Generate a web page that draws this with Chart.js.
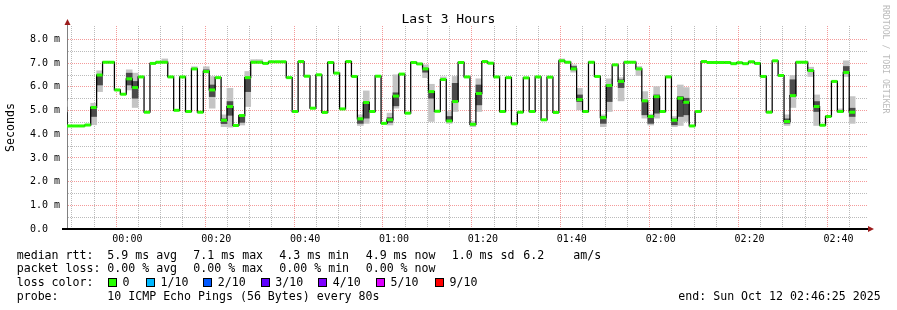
<!DOCTYPE html>
<html>
<head>
<meta charset="utf-8">
<script src="https://cdn.jsdelivr.net/npm/chart.js@4.4.1/dist/chart.umd.min.js"></script>
<style>
  body { margin: 0; background: #fff; }
  #wrap { position: relative; width: 897px; height: 310px; font-family: "DejaVu Sans Mono", monospace; color: #000; overflow: hidden; }
  canvas { position: absolute; left: 0; top: 0; }
  .title { position: absolute; left: 0; top: 11px; width: 897px; text-align: center; font-size: 13px; line-height: 16px; }
  .mark { position: absolute; left: 881px; top: 5px; writing-mode: vertical-rl; font-size: 8.2px; line-height: 10px; color: #bbb; white-space: pre; }
  .t { position: absolute; white-space: pre; font-size: 11.6px; line-height: 14px; }
  .box { position: absolute; top: 278px; width: 9px; height: 9px; box-sizing: border-box; border: 1px solid #000; }
</style>
</head>
<body>
<div id="wrap">
  <canvas id="chart" width="897" height="310"></canvas>
  <div class="title">Last 3 Hours</div>
  <div class="mark">RRDTOOL / TOBI OETIKER</div>

  <div class="t" style="left:16.7px;top:247.5px">median rtt:</div>
  <div class="t" style="left:107.3px;top:247.5px">5.9 ms avg</div>
  <div class="t" style="left:193.3px;top:247.5px">7.1 ms max</div>
  <div class="t" style="left:279.3px;top:247.5px">4.3 ms min</div>
  <div class="t" style="left:365.7px;top:247.5px">4.9 ms now</div>
  <div class="t" style="left:451.7px;top:247.5px">1.0 ms sd</div>
  <div class="t" style="left:523.3px;top:247.5px">6.2</div>
  <div class="t" style="left:573.3px;top:247.5px">am/s</div>

  <div class="t" style="left:16.7px;top:261.3px">packet loss:</div>
  <div class="t" style="left:107.3px;top:261.3px">0.00 % avg</div>
  <div class="t" style="left:193.3px;top:261.3px">0.00 % max</div>
  <div class="t" style="left:279.3px;top:261.3px">0.00 % min</div>
  <div class="t" style="left:365.7px;top:261.3px">0.00 % now</div>

  <div class="t" style="left:16.7px;top:275.1px">loss color:</div>
  <div id="lossRow"></div>

  <div class="t" style="left:16.7px;top:288.9px">probe:</div>
  <div class="t" style="left:107.3px;top:288.9px">10 ICMP Echo Pings (56 Bytes) every 80s</div>
  <div class="t" style="left:678.3px;top:288.9px">end: Sun Oct 12 02:46:25 2025</div>
</div>
<script>
// time axis: seconds after 23:46:25, 3 hours wide, one sample every 80 s
const rangeSeconds = 10800;
const stepSeconds = 80;
const firstStep = -1; // sample just left of the plot, only its edge shows

const timeLabels = ["00:00", "00:20", "00:40", "01:00", "01:20", "01:40", "02:00", "02:20", "02:40"];
const firstLabelSecond = 815;   // 00:00
const labelEverySeconds = 1200; // 20 min
const firstGridSecond = 215;    // 23:50
const gridEverySeconds = 300;   // 5 min

const yTickValues = [0, 0.5, 1, 1.5, 2, 2.5, 3, 3.5, 4, 4.5, 5, 5.5, 6, 6.5, 7, 7.5, 8];
const yTickLabels = ["0.0  ", "", "1.0 m", "", "2.0 m", "", "3.0 m", "", "4.0 m", "", "5.0 m", "", "6.0 m", "", "7.0 m", "", "8.0 m"];

// median rtt in ms, one per 80 s step, from step -1 to 132
const medianRtt = [
  4.90,
  4.35, 4.35, 4.35, 4.39, 5.13, 6.50, 7.04, 7.04, 5.87, 5.69,
  6.34, 5.97, 6.42, 4.93, 6.99, 7.04, 7.04, 6.42, 5.01, 6.42,
  4.96, 6.76, 4.93, 6.65, 5.87, 6.39, 4.59, 5.17, 4.37, 4.79,
  6.39, 7.04, 7.04, 6.99, 7.06, 7.06, 7.06, 6.39, 4.96, 7.07,
  6.45, 5.10, 6.51, 4.92, 7.03, 6.58, 5.07, 7.07, 6.44, 4.65,
  5.34, 4.96, 6.45, 4.46, 4.61, 5.61, 6.54, 4.89, 7.03, 6.97,
  6.76, 5.80, 4.97, 6.31, 4.56, 5.38, 7.03, 6.42, 4.42, 5.72,
  7.07, 7.00, 6.42, 4.96, 6.39, 4.44, 4.93, 6.38, 4.96, 6.42,
  4.61, 6.41, 4.92, 7.10, 7.04, 6.76, 5.46, 4.96, 7.04, 6.44,
  4.70, 6.06, 6.93, 6.23, 7.04, 7.04, 6.76, 5.41, 4.75, 5.59,
  4.96, 6.42, 4.59, 5.52, 5.35, 4.35, 4.96, 7.07, 7.03, 7.03,
  7.03, 7.03, 6.98, 7.02, 6.98, 7.06, 6.99, 6.44, 4.93, 7.10,
  6.48, 4.54, 5.63, 7.04, 7.04, 6.69, 5.17, 4.38, 4.75, 6.23,
  4.96, 6.61, 4.93
];

// smoke: spread of the 10 pings for the steps where it is visible
const smokeStep = [-1, 4, 5, 10, 11, 16, 21, 23, 24, 26, 27, 29, 30, 31, 32, 49, 50, 54, 55, 60, 61, 63, 64, 65, 68, 69,
  83, 85, 86, 90, 91, 93, 96, 97, 98, 99, 101, 102, 103, 104, 121, 122, 125, 126, 130, 131, 132];
const smokeLow = [4.85, 4.40, 5.80, 5.87, 5.13, 7.04, 6.72, 6.58, 5.10, 4.32, 4.30, 4.39, 5.17, 7.04, 7.04, 4.37, 4.46, 4.39, 5.10, 6.39, 4.54, 6.31, 4.46, 4.96, 4.32, 4.96,
  7.10, 6.62, 5.03, 4.32, 4.96, 5.41, 6.48, 4.68, 4.39, 4.68, 6.39, 4.32, 4.37, 4.54, 4.37, 5.13, 6.44, 4.37, 4.93, 6.44, 4.46];
const smokeHigh = [5.40, 5.31, 6.68, 6.72, 6.58, 7.18, 6.85, 6.85, 6.44, 4.82, 5.94, 4.82, 6.65, 7.15, 7.15, 4.82, 5.83, 4.89, 6.51, 6.93, 6.11, 6.42, 4.96, 6.44, 4.54, 6.34,
  7.18, 6.93, 5.94, 4.82, 6.34, 6.39, 6.86, 5.80, 4.85, 6.01, 6.48, 4.75, 6.08, 5.97, 4.82, 6.48, 6.83, 5.66, 5.07, 7.10, 5.59];
const coreLow = [4.90, 4.75, 6.08, 6.08, 5.52, null, null, 6.62, 5.59, 4.45, 4.80, 4.50, 5.80, null, null, 4.46, 4.68, 4.50, 5.20, 6.62, 5.52, null, 4.54, 5.38, null, 5.24,
  null, 6.72, 5.38, 4.46, 5.38, 5.97, null, 4.82, 4.46, 4.89, null, 4.40, 4.75, 4.82, 4.46, 5.59, null, 4.96, null, 6.62, 4.75];
const coreHigh = [5.15, 5.15, 6.50, 6.58, 6.23, null, null, 6.72, 6.08, 4.65, 5.38, 4.75, 6.35, null, null, 4.68, 5.38, 4.70, 5.75, 6.79, 5.80, null, 4.75, 6.15, null, 6.08,
  null, 6.86, 5.66, 4.75, 6.08, 6.30, null, 5.38, 4.75, 5.66, null, 4.65, 5.59, 5.52, 4.65, 6.30, null, 5.38, null, 6.86, 5.10];

const lossLabels = ["0", "1/10", "2/10", "3/10", "4/10", "5/10", "9/10"];
const lossColors = ["#26ff00", "#00b8ff", "#0059ff", "#5e00ff", "#7e00ff", "#dd00ff", "#ff0000"];

// loss colour legend row
const lossBoxX = [108, 146, 203.3, 260.7, 318.3, 376, 435];
const row = document.getElementById("lossRow");
lossLabels.forEach((lbl, i) => {
  const b = document.createElement("span");
  b.className = "box";
  b.style.left = lossBoxX[i] + "px";
  b.style.background = lossColors[i];
  row.appendChild(b);
  const t = document.createElement("div");
  t.className = "t";
  t.style.left = (lossBoxX[i] + 14.5) + "px";
  t.style.top = "275.1px";
  t.textContent = lbl;
  row.appendChild(t);
});

const xOf = (step) => step * stepSeconds + stepSeconds / 2;
const stepPx = 800 * stepSeconds / rangeSeconds;

const gridTimes = [];
for (let t = firstGridSecond; t < rangeSeconds; t += gridEverySeconds) gridTimes.push(t);
const isMajorX = (v) => (v - firstLabelSecond) % labelEverySeconds === 0;

const minorGrid = "rgba(175,175,175,0.85)";
const majorGrid = "rgba(240,120,120,0.75)";

Chart.defaults.font.family = "'DejaVu Sans Mono', monospace";

const medianPts = medianRtt.map((v, k) => ({ x: xOf(firstStep + k), y: v }));
const smokePts = smokeStep.map((s, k) => ({ x: xOf(s), y: [smokeLow[k], smokeHigh[k]] }));
const corePts = smokeStep
  .map((s, k) => ({ x: xOf(s), y: [coreLow[k], coreHigh[k]] }))
  .filter((p) => p.y[0] !== null);

const axisArrows = {
  id: "axisArrows",
  beforeDraw: (chart) => {
    const { ctx } = chart;
    ctx.save();
    ctx.fillStyle = "white";
    ctx.fillRect(0, 0, chart.width, chart.height);
    ctx.restore();
  },
  afterDraw: (chart) => {
    const { ctx, chartArea: a } = chart;
    ctx.save();
    ctx.strokeStyle = "#808080";
    ctx.lineWidth = 1;
    ctx.beginPath();
    ctx.moveTo(a.left + 0.5, a.top);
    ctx.lineTo(a.left + 0.5, a.top - 3);
    ctx.stroke();
    ctx.strokeStyle = "#000";
    ctx.lineWidth = 2;
    ctx.beginPath();
    ctx.moveTo(a.left - 5, a.bottom);
    ctx.lineTo(a.right + 3, a.bottom);
    ctx.stroke();
    ctx.fillStyle = "#9c1c1c";
    ctx.beginPath();
    ctx.moveTo(a.left + 0.5, a.top - 7);
    ctx.lineTo(a.left - 2.5, a.top - 1);
    ctx.lineTo(a.left + 3.5, a.top - 1);
    ctx.closePath();
    ctx.fill();
    ctx.beginPath();
    ctx.moveTo(a.right + 7, a.bottom);
    ctx.lineTo(a.right + 1, a.bottom - 3);
    ctx.lineTo(a.right + 1, a.bottom + 3);
    ctx.closePath();
    ctx.fill();
    ctx.restore();
  },
};

new Chart(document.getElementById("chart"), {
  type: "line",
  data: {
    datasets: [
      {
        type: "bar",
        data: smokePts,
        backgroundColor: "#c4c4c4",
        borderWidth: 0,
        barThickness: stepPx,
        grouped: false,
        order: 4,
      },
      {
        type: "bar",
        data: corePts,
        backgroundColor: "rgba(45,45,45,0.8)",
        borderWidth: 0,
        barThickness: stepPx,
        grouped: false,
        order: 3,
      },
      {
        type: "line",
        data: medianPts,
        stepped: "middle",
        borderColor: "#000",
        borderWidth: 1.25,
        pointRadius: 0,
        order: 2,
      },
      {
        type: "line",
        data: medianPts,
        showLine: false,
        pointStyle: "line",
        pointRadius: stepPx / 2,
        pointBorderWidth: 3,
        pointBorderColor: lossColors[0],
        pointBackgroundColor: lossColors[0],
        order: 1,
      },
    ],
  },
  options: {
    responsive: false,
    animation: false,
    devicePixelRatio: 1,
    layout: { padding: { left: 0, top: 26, right: 30, bottom: 0 } },
    plugins: {
      legend: { display: false },
      tooltip: { enabled: false },
    },
    scales: {
      x: {
        type: "linear",
        min: 0,
        max: rangeSeconds,
        offset: false,
        afterBuildTicks: (s) => { s.ticks = gridTimes.map((v) => ({ value: v })); },
        afterFit: (s) => { s.height = 81; },
        ticks: {
          autoSkip: false,
          maxRotation: 0,
          padding: 4,
          color: "#000",
          font: { size: 10 },
          callback: (v) => (isMajorX(v) ? timeLabels[(v - firstLabelSecond) / labelEverySeconds] : ""),
        },
        grid: {
          drawTicks: false,
          lineWidth: 1,
          color: (c) => (c.tick && isMajorX(c.tick.value) ? majorGrid : minorGrid),
        },
        border: { display: true, color: "#000", width: 2, dash: [1, 1] },
      },
      y: {
        min: 0,
        max: 8.57,
        afterBuildTicks: (s) => { s.ticks = yTickValues.map((v) => ({ value: v })); },
        afterFit: (s) => { s.width = 67; },
        ticks: {
          autoSkip: false,
          padding: 7,
          color: "#000",
          font: { size: 10 },
          callback: (v, i) => yTickLabels[i],
        },
        grid: {
          drawTicks: false,
          lineWidth: 1,
          color: (c) => (c.tick && yTickLabels[c.index] ? majorGrid : minorGrid),
        },
        border: { display: true, color: "#808080", width: 1, dash: [1, 1] },
        title: {
          display: true,
          text: "Seconds",
          color: "#000",
          font: { size: 11.6 },
          padding: { top: 4, bottom: 0 },
        },
      },
    },
  },
  plugins: [axisArrows],
});
</script>
</body>
</html>
